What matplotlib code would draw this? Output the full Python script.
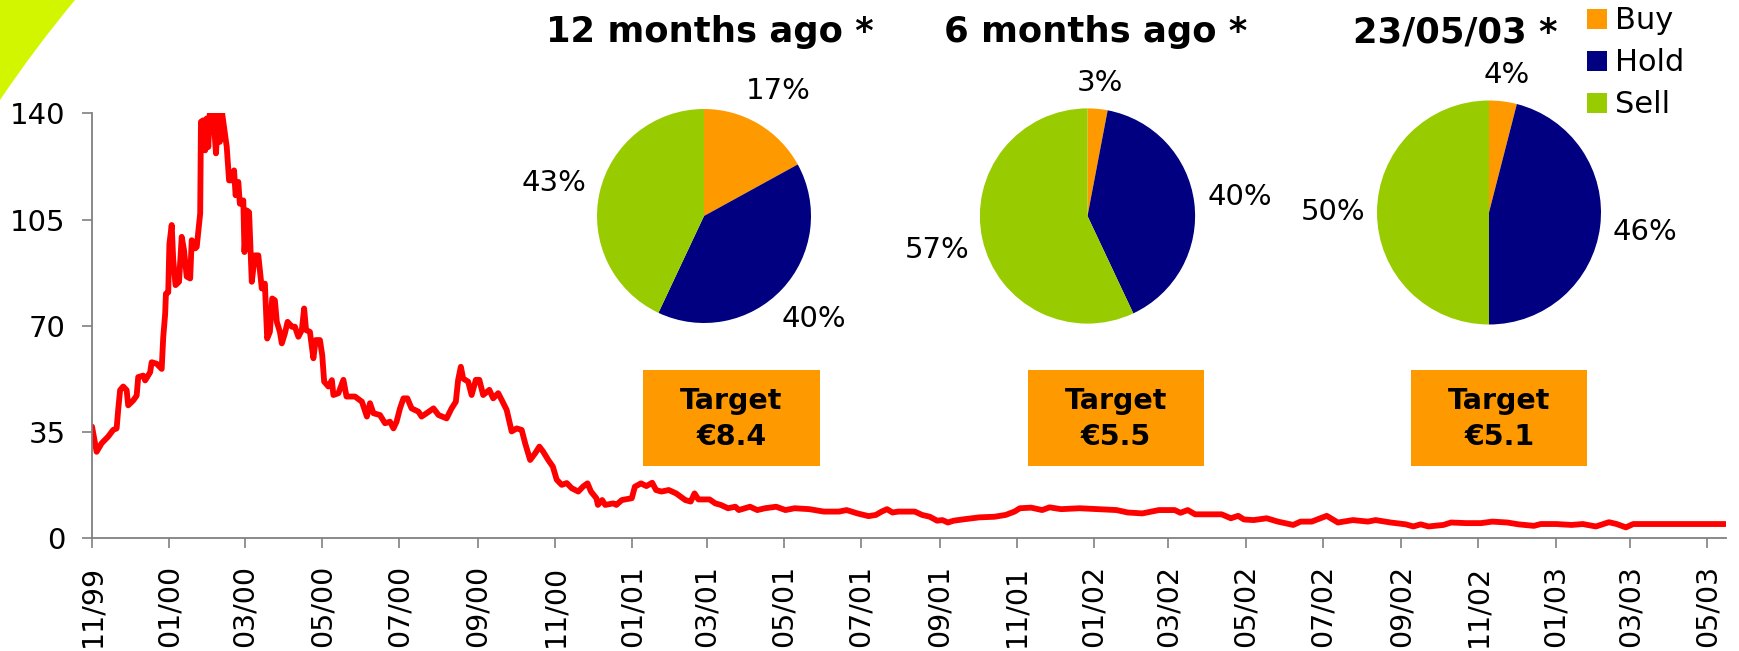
import datetime as dt
import numpy as np
import matplotlib
matplotlib.use("Agg")
import matplotlib.pyplot as plt
from matplotlib.patches import Rectangle, PathPatch
from matplotlib.path import Path

# ---------------- data ----------------
# x values: months elapsed since 1 Nov 1999
months = [0.00, 0.12, 0.25, 0.42, 0.55, 0.64, 0.68, 0.73, 0.81, 0.90, 0.94, 1.07, 1.16, 1.20,
          1.33, 1.38, 1.51, 1.55, 1.68, 1.81, 1.85, 1.90, 1.92, 1.98, 2.01, 2.07, 2.11, 2.17,
          2.26, 2.33, 2.39, 2.46, 2.55, 2.59, 2.68, 2.72, 2.81, 2.83, 2.89, 2.94, 2.98, 3.02,
          3.06, 3.15, 3.22, 3.28, 3.32, 3.38, 3.50, 3.56, 3.63, 3.69, 3.73, 3.80, 3.84, 3.93,
          3.96, 4.02, 4.08, 4.15, 4.23, 4.32, 4.41, 4.49, 4.55, 4.62, 4.68, 4.75, 4.80, 4.88,
          4.93, 5.01, 5.08, 5.19, 5.27, 5.36, 5.45, 5.51, 5.56, 5.66, 5.75, 5.81, 5.92, 5.98,
          6.03, 6.14, 6.23, 6.27, 6.40, 6.53, 6.61, 6.83, 7.01, 7.14, 7.22, 7.31, 7.48, 7.61,
          7.74, 7.83, 7.91, 8.00, 8.09, 8.19, 8.30, 8.48, 8.56, 8.69, 8.87, 9.00, 9.21, 9.34,
          9.45, 9.51, 9.58, 9.64, 9.77, 9.86, 9.97, 10.06, 10.16, 10.32, 10.42, 10.55, 10.64,
          10.77, 10.90, 11.03, 11.16, 11.25, 11.38, 11.51, 11.62, 11.72, 11.85, 11.97, 12.07,
          12.20, 12.33, 12.46, 12.63, 12.76, 12.87, 12.96, 13.10, 13.14, 13.25, 13.33, 13.54,
          13.62, 13.76, 14.02, 14.10, 14.26, 14.40, 14.55, 14.65, 14.79, 14.98, 15.17, 15.41,
          15.55, 15.65, 15.75, 16.04, 16.19, 16.33, 16.52, 16.71, 16.80, 17.09, 17.28, 17.48,
          17.77, 18.01, 18.25, 18.63, 19.01, 19.40, 19.60, 19.88, 20.17, 20.36, 20.51, 20.65,
          20.79, 20.94, 21.18, 21.37, 21.56, 21.76, 21.95, 22.09, 22.23, 22.38, 22.67, 23.05,
          23.44, 23.73, 23.96, 24.10, 24.39, 24.68, 24.87, 25.17, 25.65, 26.13, 26.61, 26.90,
          27.28, 27.71, 28.12, 28.27, 28.46, 28.65, 29.34, 29.58, 29.77, 29.92, 30.17, 30.51,
          30.80, 31.20, 31.39, 31.68, 32.07, 32.36, 32.75, 33.14, 33.34, 33.73, 34.12, 34.32,
          34.51, 34.71, 35.10, 35.30, 35.69, 36.08, 36.37, 36.76, 37.05, 37.45, 37.63, 38.03,
          38.43, 38.72, 39.06, 39.40, 39.60, 39.84, 40.03, 40.67, 41.64, 42.42]

price = [36.8, 28.5, 31.3, 33.5, 35.7, 36.2, 42.3, 48.8, 50.0, 48.8, 43.8, 45.4, 47.0, 53.1,
         53.6, 52.0, 54.7, 58.0, 57.5, 55.8, 66.2, 73.9, 80.6, 81.0, 96.9, 103.2, 91.7, 83.4,
         84.5, 99.3, 94.9, 86.2, 85.6, 98.2, 95.5, 96.0, 107.0, 137.2, 137.7, 127.8, 138.3, 128.9,
         140.0, 140.0, 126.8, 140.0, 130.6, 140.0, 128.9, 117.9, 117.9, 121.2, 113.0, 117.4, 110.2, 111.3,
         94.3, 108.0, 107.4, 84.5, 93.2, 93.2, 82.3, 83.9, 65.8, 68.0, 79.0, 78.4, 71.3, 68.0,
         64.2, 67.5, 71.3, 69.7, 69.7, 66.4, 68.6, 75.7, 68.6, 68.0, 59.3, 65.3, 65.3, 60.3,
         51.6, 50.0, 52.1, 47.2, 47.8, 52.2, 46.7, 46.7, 45.0, 40.1, 44.5, 41.2, 40.6, 37.9,
         38.4, 36.2, 38.4, 42.8, 46.1, 46.1, 42.8, 41.7, 40.1, 41.2, 42.8, 40.6, 39.5, 42.8,
         45.0, 52.2, 56.5, 52.6, 51.6, 47.2, 52.2, 52.2, 47.2, 48.9, 46.1, 47.8, 45.6,
         42.3, 35.2, 36.2, 35.7, 31.3, 25.8, 28.0, 30.2, 28.5, 25.8, 23.6, 19.3,
         17.6, 18.2, 16.5, 15.4, 17.1, 18.1, 15.4, 13.2, 11.0, 12.6, 11.0, 11.5,
         11.0, 12.6, 13.2, 17.0, 18.1, 17.2, 18.3, 15.9, 15.4, 15.9, 14.8, 12.6,
         12.1, 14.8, 12.8, 12.8, 11.5, 11.0, 9.9, 10.4, 9.3, 10.4, 9.3, 9.9,
         10.4, 9.3, 9.9, 9.6, 8.8, 8.8, 9.3, 8.2, 7.3, 7.7, 8.8, 9.6,
         8.5, 8.8, 8.8, 8.8, 7.7, 7.1, 5.8, 6.0, 5.2, 5.8, 6.3, 6.9,
         7.1, 7.7, 8.8, 9.9, 10.1, 9.3, 10.2, 9.6, 9.9, 9.6, 9.3, 8.5,
         8.2, 9.3, 9.3, 8.4, 9.3, 7.9, 7.9, 6.6, 7.4, 6.2, 6.0, 6.6,
         5.5, 4.4, 5.5, 5.5, 7.4, 5.2, 6.0, 5.5, 6.0, 5.2, 4.6, 3.9,
         4.6, 3.9, 4.4, 5.2, 5.0, 5.0, 5.5, 5.2, 4.6, 4.1, 4.7, 4.7,
         4.4, 4.7, 3.9, 5.3, 4.7, 3.6, 4.7, 4.7, 4.7, 4.7]

y_ticks = [0, 35, 70, 105, 140]
x_tick_labels = ['11/99', '01/00', '03/00', '05/00', '07/00', '09/00', '11/00',
                 '01/01', '03/01', '05/01', '07/01', '09/01', '11/01',
                 '01/02', '03/02', '05/02', '07/02', '09/02', '11/02',
                 '01/03', '03/03', '05/03']

categories = ['Buy', 'Hold', 'Sell']
pie_titles = ['12 months ago *', '6 months ago *', '23/05/03 *']
pie_12m = [17, 40, 43]
pie_6m = [3, 40, 57]
pie_now = [4, 46, 50]
target_prices = [8.4, 5.5, 5.1]

colors = ['#FF9900', '#000080', '#99CC00']

# ---------------- figure ----------------
W, H = 1740, 651
fig = plt.figure(figsize=(W / 100, H / 100), dpi=100)
plt.rcParams['font.family'] = ['DejaVu Sans']


def fx(x):
    return x / W


def fy(y):
    return 1 - y / H


# decorative green corner
verts = [(0, fy(100)), (fx(35), fy(48)), (fx(75), 1), (0, 1), (0, fy(100))]
codes = [Path.MOVETO, Path.CURVE3, Path.CURVE3, Path.LINETO, Path.CLOSEPOLY]
fig.patches.append(PathPatch(Path(verts, codes), transform=fig.transFigure,
                             facecolor='#D2F500', edgecolor='none', zorder=0))

# ---------------- line chart ----------------
start = dt.datetime(1999, 11, 1)
dates = [start + dt.timedelta(days=m * 30.4375) for m in months]

ax = fig.add_axes([fx(92), fy(538.3), fx(1726 - 92), (538.3 - 113.3) / H])
ax.plot(dates, price, color='#FF0000', lw=4.2, solid_joinstyle='round',
        solid_capstyle='round')
ax.set_ylim(0, 140)
ax.set_yticks(y_ticks)
ax.set_xlim(start, start + dt.timedelta(days=42.44 * 30.4375))


def lab2date(s):
    mm, yy = s.split('/')
    yy = int(yy)
    return dt.datetime(2000 + yy if yy < 50 else 1900 + yy, int(mm), 1)


ax.set_xticks([lab2date(s) for s in x_tick_labels])
ax.set_xticklabels(x_tick_labels, rotation=90)
for s in ['top', 'right']:
    ax.spines[s].set_visible(False)
for s in ['left', 'bottom']:
    ax.spines[s].set_color('#808080')
    ax.spines[s].set_linewidth(1.3)
ax.tick_params(axis='both', direction='out', length=7, width=1.2, color='#808080',
               labelcolor='black')
ax.tick_params(axis='y', pad=12, labelsize=21)
ax.tick_params(axis='x', pad=12, labelsize=20.5)
ax.set_facecolor('none')

# ---------------- pies ----------------
pie_geo = [(704, 216, 107), (1087.5, 216, 107.6), (1489, 212.5, 112)]
pie_data = [pie_12m, pie_6m, pie_now]
title_x = [710, 1096, 1455]

fig.canvas.draw()
renderer = fig.canvas.get_renderer()
for (cx, cy, r), vals, title, tx in zip(pie_geo, pie_data, pie_titles, title_x):
    pax = fig.add_axes([fx(cx - r), fy(cy + r), fx(2 * r), 2 * r / H])
    wedges, texts, autos = pax.pie(vals, colors=colors, startangle=90, counterclock=False,
                                   autopct=lambda p: f'{p:.0f}%', pctdistance=1.4,
                                   wedgeprops=dict(linewidth=0),
                                   textprops=dict(fontsize=21, color='black'))
    pax.set_xlim(-1, 1)
    pax.set_ylim(-1, 1)
    pax.set_aspect('auto')
    pax.axis('off')
    for w, t in zip(wedges, autos):
        th = np.deg2rad((w.theta1 + w.theta2) / 2)
        bb = t.get_window_extent(renderer)
        d = r + 12 + abs(bb.width / 2 * np.cos(th)) + abs(bb.height * 0.42 * np.sin(th))
        t.set_position((d / r * np.cos(th), d / r * np.sin(th)))
    fig.text(fx(tx), fy(42), title, ha='center', va='baseline', fontsize=25.5,
             fontweight='bold')

# ---------------- legend ----------------
for i, (cat, c) in enumerate(zip(categories, colors)):
    bottom = 29 + i * 42
    fig.patches.append(Rectangle((fx(1587), fy(bottom)), fx(20), 20 / H,
                                 transform=fig.transFigure, facecolor=c,
                                 edgecolor='none'))
    fig.text(fx(1615), fy(bottom), cat, ha='left', va='baseline', fontsize=22)

# ---------------- target boxes ----------------
box_x = [(643, 820), (1027.5, 1204), (1411.5, 1587)]
for (x0, x1), tp in zip(box_x, target_prices):
    fig.patches.append(Rectangle((fx(x0), fy(466)), fx(x1 - x0), (466 - 370) / H,
                                 transform=fig.transFigure, facecolor='#FF9900',
                                 edgecolor='none', zorder=1))
    fig.text(fx((x0 + x1) / 2), fy(419), f'Target\n€{tp:.1f}', ha='center',
             va='center', fontsize=20.5, fontweight='bold', linespacing=1.35, zorder=2)

fig.savefig('out.png', dpi=100)
